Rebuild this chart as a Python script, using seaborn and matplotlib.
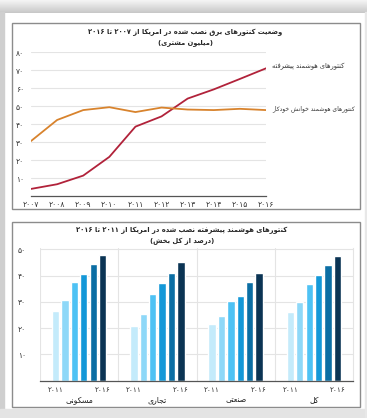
import re
import numpy as np
import pandas as pd
import matplotlib
matplotlib.use('Agg')
import matplotlib.pyplot as plt
from matplotlib.patches import Rectangle
import seaborn as sns

# ---- data ----
years = [2007, 2008, 2009, 2010, 2011, 2012, 2013, 2014, 2015, 2016]
ami = [4.1, 6.7, 11.5, 21.9, 38.7, 44.4, 54.3, 59.4, 65.2, 71.1]
amr = [30.7, 42.4, 47.9, 49.5, 46.8, 49.3, 48.2, 47.9, 48.6, 47.9]
ami_name = 'کنتورهای هوشمند پیشرفته'
amr_name = 'کنتورهای هوشمند خوانش خودکار'

bar_years = [2011, 2012, 2013, 2014, 2015, 2016]
sectors = ['مسکونی', 'تجاری', 'صنعتی', 'کل']
residential = [26.6, 30.7, 37.5, 40.6, 44.4, 47.8]
commercial = [20.9, 25.4, 32.9, 37.0, 41.1, 45.0]
industrial = [21.4, 24.6, 30.2, 32.3, 37.4, 41.1]
total = [26.0, 29.8, 36.9, 40.1, 43.9, 47.5]

top_title = 'وضعیت کنتورهای برق نصب شده در امریکا از ۲۰۰۷ تا ۲۰۱۶'
top_sub = '(میلیون مشتری)'
bot_title = 'کنتورهای هوشمند پیشرفته نصب شده در امریکا از ۲۰۱۱ تا ۲۰۱۶'
bot_sub = '(درصد از کل بخش)'

line_colors = {ami_name: '#b1223a', amr_name: '#d8832d'}
bar_colors = ['#c4ebfb', '#8ed8f8', '#4ec2f4', '#1498d8', '#0b6ea4', '#0b3454']

# ---- minimal persian shaping (matplotlib has no RTL layout) ----
FORMS = {
    'ا': ('\uFE8D', '\uFE8E', None, None),
    'آ': ('\uFE81', '\uFE82', None, None),
    'ب': ('\uFE8F', '\uFE90', '\uFE91', '\uFE92'),
    'پ': ('\uFB56', '\uFB57', '\uFB58', '\uFB59'),
    'ت': ('\uFE95', '\uFE96', '\uFE97', '\uFE98'),
    'ث': ('\uFE99', '\uFE9A', '\uFE9B', '\uFE9C'),
    'ج': ('\uFE9D', '\uFE9E', '\uFE9F', '\uFEA0'),
    'چ': ('\uFB7A', '\uFB7B', '\uFB7C', '\uFB7D'),
    'ح': ('\uFEA1', '\uFEA2', '\uFEA3', '\uFEA4'),
    'خ': ('\uFEA5', '\uFEA6', '\uFEA7', '\uFEA8'),
    'د': ('\uFEA9', '\uFEAA', None, None),
    'ذ': ('\uFEAB', '\uFEAC', None, None),
    'ر': ('\uFEAD', '\uFEAE', None, None),
    'ز': ('\uFEAF', '\uFEB0', None, None),
    'ژ': ('\uFB8A', '\uFB8B', None, None),
    'س': ('\uFEB1', '\uFEB2', '\uFEB3', '\uFEB4'),
    'ش': ('\uFEB5', '\uFEB6', '\uFEB7', '\uFEB8'),
    'ص': ('\uFEB9', '\uFEBA', '\uFEBB', '\uFEBC'),
    'ض': ('\uFEBD', '\uFEBE', '\uFEBF', '\uFEC0'),
    'ط': ('\uFEC1', '\uFEC2', '\uFEC3', '\uFEC4'),
    'ظ': ('\uFEC5', '\uFEC6', '\uFEC7', '\uFEC8'),
    'ع': ('\uFEC9', '\uFECA', '\uFECB', '\uFECC'),
    'غ': ('\uFECD', '\uFECE', '\uFECF', '\uFED0'),
    'ف': ('\uFED1', '\uFED2', '\uFED3', '\uFED4'),
    'ق': ('\uFED5', '\uFED6', '\uFED7', '\uFED8'),
    'ک': ('\uFB8E', '\uFB8F', '\uFB90', '\uFB91'),
    'گ': ('\uFB92', '\uFB93', '\uFB94', '\uFB95'),
    'ل': ('\uFEDD', '\uFEDE', '\uFEDF', '\uFEE0'),
    'م': ('\uFEE1', '\uFEE2', '\uFEE3', '\uFEE4'),
    'ن': ('\uFEE5', '\uFEE6', '\uFEE7', '\uFEE8'),
    'ه': ('\uFEE9', '\uFEEA', '\uFEEB', '\uFEEC'),
    'و': ('\uFEED', '\uFEEE', None, None),
    'ی': ('\uFBFC', '\uFBFD', '\uFBFE', '\uFBFF'),
    'ئ': ('\uFE89', '\uFE8A', '\uFE8B', '\uFE8C'),
}


def fa(text):
    out = []
    for i, ch in enumerate(text):
        if ch not in FORMS:
            out.append(ch)
            continue
        prev = text[i - 1] if i > 0 else ''
        nxt = text[i + 1] if i < len(text) - 1 else ''
        iso, fin, ini, med = FORMS[ch]
        jp = prev in FORMS and FORMS[prev][2] is not None
        jn = ini is not None and nxt in FORMS
        out.append(med if jp and jn else fin if jp else ini if jn else iso)
    s = ''.join(out)[::-1]
    s = re.sub(r'[0-9\u06F0-\u06F9]+', lambda m: m.group(0)[::-1], s)
    return s.translate(str.maketrans('()', ')('))


def fa_num(n):
    return str(n).translate(str.maketrans('0123456789', '۰۱۲۳۴۵۶۷۸۹'))


sns.set_style('white')
plt.rcParams['font.family'] = ['DejaVu Sans']
W, H = 367, 418
fig = plt.figure(figsize=(W / 100, H / 100), dpi=100)
fig.patch.set_facecolor('white')


def frac(x0, y0, x1, y1):
    return [x0 / W, 1 - y1 / H, (x1 - x0) / W, (y1 - y0) / H]


# page decoration: top shadow, side strips, panel frames
shade = fig.add_axes(frac(0, 0, W, 13), zorder=0)
shade.imshow(np.linspace(0.96, 0.78, 50).reshape(-1, 1), cmap='gray', vmin=0, vmax=1,
             aspect='auto', extent=[0, 1, 0, 1])
shade.axis('off')
fig.patches.append(Rectangle((0, 0), 3.5 / W, 1 - 12 / H, transform=fig.transFigure,
                             color='#cfcfcf', zorder=0))
fig.patches.append(Rectangle((0, 0), 1, 9 / H, transform=fig.transFigure,
                             color='#e4e4e4', zorder=0))
fig.patches.append(Rectangle((1 - 2.5 / W, 0), 2.5 / W, 1 - 12 / H, transform=fig.transFigure,
                             color='#e8e8e8', zorder=0))
for y0, y1 in [(23, 209), (222, 407)]:
    fig.patches.append(Rectangle((12 / W, 1 - y1 / H), 348 / W, (y1 - y0) / H,
                                 transform=fig.transFigure, fill=False,
                                 edgecolor='#8c8c8c', lw=1.0, zorder=1))

# ---- top: line chart ----
lines = pd.DataFrame({
    'year': years * 2,
    'value': ami + amr,
    'series': [ami_name] * len(years) + [amr_name] * len(years),
})
ax1 = fig.add_axes(frac(31, 52.3, 266, 196.3))
sns.lineplot(data=lines, x='year', y='value', hue='series', palette=line_colors,
             linewidth=1.3, legend=False, ax=ax1)
ax1.set_xlim(years[0], years[-1])
ax1.set_ylim(0, 80)
ax1.set_yticks(range(10, 81, 10))
ax1.set_yticklabels([fa_num(v) for v in range(10, 81, 10)])
ax1.set_xticks(years)
ax1.set_xticklabels([fa_num(y) for y in years])
ax1.grid(axis='y', color='#e4e4e4', lw=0.8)
for s in ['left', 'top', 'right']:
    ax1.spines[s].set_visible(False)
ax1.spines['bottom'].set_color('#555555')
ax1.spines['bottom'].set_linewidth(0.9)
ax1.tick_params(axis='y', length=0, pad=5, labelsize=5.5, labelcolor='#333333')
ax1.tick_params(axis='x', length=2.5, width=0.7, color='#555555', direction='inout',
                pad=1.5, labelsize=5.5, labelcolor='#333333')
ax1.set_xlabel('')
ax1.set_ylabel('')
for name, vals, size in [(ami_name, ami, 4.8), (amr_name, amr, 4.3)]:
    ax1.annotate(fa(name), xy=(years[-1], vals[-1]), xytext=(4.5, 1), textcoords='offset points',
                 ha='left', va='center', fontsize=size, color='#333333', annotation_clip=False)

fig.text(185 / W, 1 - 32 / H, fa(top_title), ha='center', va='center',
         fontsize=4.9, fontweight='bold')
fig.text(185 / W, 1 - 43 / H, fa(top_sub), ha='center', va='center',
         fontsize=4.9, fontweight='bold')

# ---- bottom: grouped bars ----
bars = pd.DataFrame({
    'sector': [s for s in sectors for _ in bar_years],
    'year': bar_years * len(sectors),
    'value': residential + commercial + industrial + total,
})
ax2 = fig.add_axes(frac(40, 248, 353, 380.7))
sns.barplot(data=bars, x='sector', y='value', hue='year', order=sectors,
            palette=bar_colors, width=0.72, gap=0.22, saturation=1, legend=False, ax=ax2)
ax2.set_ylim(0, 50.5)
ax2.set_xlim(-0.5, len(sectors) - 0.5)
ax2.set_yticks(range(10, 51, 10))
ax2.set_yticklabels([fa_num(v) for v in range(10, 51, 10)])
ax2.set_xticks(np.arange(len(sectors)) - 0.5, minor=True)
ax2.set_xticks(range(len(sectors)))
ax2.set_xticklabels([fa(s) for s in sectors])
ax2.grid(axis='y', color='#e4e4e4', lw=0.8)
ax2.grid(axis='x', which='minor', color='#e4e4e4', lw=0.8)
ax2.set_axisbelow(True)
for s in ['left', 'top']:
    ax2.spines[s].set_visible(False)
ax2.spines['right'].set_color('#e4e4e4')
ax2.spines['right'].set_linewidth(0.8)
ax2.spines['bottom'].set_color('#555555')
ax2.spines['bottom'].set_linewidth(0.9)
ax2.tick_params(axis='y', length=0, pad=10, labelsize=5.5, labelcolor='#333333')
ax2.tick_params(axis='x', which='both', length=0, pad=10.5, labelsize=5.6, labelcolor='#222222')
ax2.set_xlabel('')
ax2.set_ylabel('')
for cont, yr in [(ax2.containers[0], bar_years[0]), (ax2.containers[-1], bar_years[-1])]:
    for p in cont.patches:
        ax2.annotate(fa_num(yr), xy=(p.get_x() + p.get_width() / 2, 0),
                     xycoords=('data', 'axes fraction'), xytext=(0, -7),
                     textcoords='offset points', ha='center', va='center',
                     fontsize=5.3, color='#333333', annotation_clip=False)

fig.text(182 / W, 1 - 230 / H, fa(bot_title), ha='center', va='center',
         fontsize=4.9, fontweight='bold')
fig.text(182 / W, 1 - 241 / H, fa(bot_sub), ha='center', va='center',
         fontsize=4.9, fontweight='bold')

fig.savefig('out.png', dpi=100)
